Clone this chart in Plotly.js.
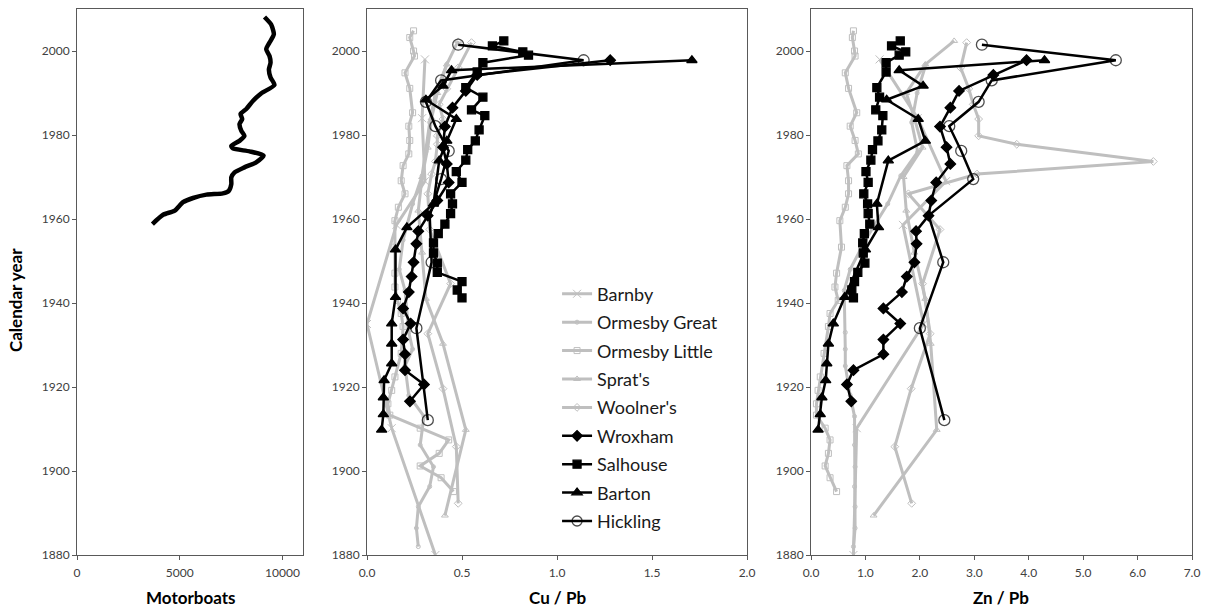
<!DOCTYPE html>
<html>
<head>
<meta charset="utf-8">
<script src="https://cdn.plot.ly/plotly-3.0.1.min.js"></script>
<style>html,body{margin:0;padding:0;background:#fff;}#chart{width:1211px;height:607px;}</style>
</head>
<body>
<div id="chart"></div>
<script>
// ---------- Motorboats ----------
const boatYears = [2008.1, 2006.3, 2004.0, 2002.0, 2000.4, 1998.8, 1997.2, 1995.6, 1993.7, 1991.9, 1989.9, 1988.1, 1986.2, 1985.0, 1983.8, 1982.6, 1981.0, 1979.8, 1978.6, 1977.4, 1976.8, 1976.1, 1975.1, 1973.5, 1972.3, 1971.1, 1969.9, 1968.3, 1966.7, 1966.1, 1965.8, 1965.0, 1964.0, 1962.0, 1961.0, 1958.8];
const boatCount = [9126, 9450, 9580, 9370, 9210, 9370, 9420, 9340, 9420, 9610, 8960, 8560, 8240, 7960, 8040, 7910, 8000, 8150, 7910, 7510, 7590, 8400, 9080, 8720, 8150, 7670, 7510, 7510, 7390, 7100, 6300, 5650, 5160, 4760, 4190, 3670];

// ---------- Grey lakes ----------
const barnbyYears = [1998.0, 1984.0, 1969.0, 1958.6, 1935.0, 1910.2, 1880.0];
const barnbyCu    = [0.305, 0.29, 0.305, 0.155, 0.0, 0.13, 0.36];
const barnbyZn    = [1.26, 1.96, 2.48, 1.69, 2.07, 0.84, 0.78];

const ormGreatYears = [1996.8, 1990.0, 1983.0, 1976.0, 1970.3, 1963.6, 1955.0, 1948.0, 1943.0, 1933.0, 1929.0, 1925.0, 1918.0, 1913.0, 1906.2, 1901.0, 1896.3, 1891.5, 1886.4, 1882.0];
const ormGreatCu    = [0.42, 0.36, 0.33, 0.31, 0.29, 0.24, 0.19, 0.17, 0.20, 0.22, 0.24, 0.20, 0.22, 0.30, 0.28, 0.35, 0.33, 0.27, 0.26, 0.27];
const ormGreatZn    = [2.11, 1.95, 1.85, 1.96, 1.65, 1.41, 1.00, 0.72, 0.61, 0.63, 0.63, 0.63, 0.72, 0.80, 0.80, 0.81, 0.80, 0.81, 0.81, 0.78];

const ormLittleYears = [2004.8, 2003.2, 2000.0, 1998.8, 1994.8, 1991.1, 1985.3, 1982.1, 1978.7, 1975.5, 1972.7, 1969.1, 1966.0, 1962.8, 1959.6, 1953.3, 1947.1, 1943.8, 1940.6, 1937.5, 1934.4, 1928.0, 1922.4, 1919.2, 1916.0, 1913.3, 1910.2, 1907.4, 1904.2, 1901.2, 1898.4, 1895.1];
const ormLittleCu    = [0.245, 0.225, 0.245, 0.25, 0.20, 0.225, 0.24, 0.22, 0.225, 0.22, 0.19, 0.18, 0.20, 0.165, 0.147, 0.147, 0.147, 0.147, 0.16, 0.18, 0.19, 0.18, 0.147, 0.13, 0.11, 0.12, 0.28, 0.43, 0.38, 0.28, 0.39, 0.455];
const ormLittleZn    = [0.78, 0.76, 0.80, 0.81, 0.63, 0.69, 0.84, 0.72, 0.81, 0.87, 0.66, 0.69, 0.69, 0.63, 0.53, 0.56, 0.47, 0.44, 0.50, 0.35, 0.32, 0.24, 0.17, 0.13, 0.10, 0.10, 0.26, 0.35, 0.32, 0.26, 0.35, 0.47];

const spratYears = [2002.4, 1996.8, 1990.0, 1984.0, 1977.0, 1970.0, 1962.0, 1952.0, 1941.0, 1930.3, 1909.8, 1889.4];
const spratCu    = [0.48, 0.42, 0.37, 0.34, 0.32, 0.29, 0.27, 0.29, 0.31, 0.40, 0.52, 0.41];
const spratZn    = [2.63, 2.10, 1.75, 1.90, 2.05, 1.70, 1.75, 1.90, 2.10, 2.20, 2.31, 1.15];

const woolYears = [2002.0, 1996.0, 1991.0, 1987.3, 1983.8, 1979.8, 1977.8, 1973.7, 1970.7, 1966.0, 1957.5, 1944.6, 1932.7, 1919.6, 1905.8, 1892.3];
const woolCu    = [0.55, 0.48, 0.42, 0.38, 0.40, 0.37, 0.37, 0.36, 0.34, 0.32, 0.33, 0.44, 0.32, 0.40, 0.47, 0.48];
const woolZn    = [2.86, 2.75, 2.90, 2.98, 3.08, 3.08, 3.78, 6.29, 3.05, 1.79, 2.37, 2.05, 2.19, 1.84, 1.54, 1.85];

// ---------- Black lakes ----------
const wroxYears = [1997.8, 1994.3, 1990.5, 1986.5, 1982.0, 1977.1, 1973.1, 1968.7, 1964.4, 1960.8, 1957.1, 1954.1, 1949.7, 1946.3, 1942.6, 1938.7, 1935.1, 1931.3, 1927.8, 1924.0, 1920.6, 1916.6];
const wroxCu    = [1.28, 0.58, 0.52, 0.45, 0.41, 0.40, 0.42, 0.43, 0.37, 0.32, 0.27, 0.26, 0.245, 0.235, 0.22, 0.19, 0.23, 0.19, 0.20, 0.20, 0.30, 0.226];
const wroxZn    = [3.96, 3.35, 2.72, 2.56, 2.37, 2.49, 2.56, 2.30, 2.21, 2.16, 1.93, 1.94, 1.90, 1.76, 1.67, 1.33, 1.64, 1.33, 1.33, 0.78, 0.66, 0.74];

const salYears = [2002.4, 2001.2, 1999.8, 1999.0, 1997.2, 1995.0, 1991.3, 1989.0, 1986.0, 1984.6, 1981.2, 1978.6, 1976.5, 1974.0, 1971.3, 1968.7, 1966.0, 1963.6, 1961.3, 1958.8, 1956.5, 1954.3, 1951.9, 1949.5, 1947.3, 1945.1, 1943.1, 1941.2];
const salCu    = [0.72, 0.66, 0.82, 0.85, 0.61, 0.58, 0.52, 0.61, 0.55, 0.62, 0.59, 0.57, 0.53, 0.52, 0.47, 0.50, 0.44, 0.45, 0.44, 0.41, 0.375, 0.35, 0.35, 0.37, 0.37, 0.50, 0.475, 0.50];
const salZn    = [1.64, 1.48, 1.74, 1.62, 1.38, 1.38, 1.21, 1.26, 1.19, 1.32, 1.30, 1.23, 1.13, 1.10, 1.01, 1.05, 0.97, 1.04, 1.05, 1.08, 0.98, 0.95, 0.96, 0.99, 0.86, 0.80, 0.75, 0.78];

const bartYears = [1997.8, 1995.4, 1991.7, 1988.4, 1983.8, 1978.6, 1973.9, 1963.6, 1958.0, 1952.7, 1941.4, 1935.1, 1930.3, 1925.6, 1921.6, 1917.5, 1913.5, 1909.8];
const bartCu    = [1.71, 0.445, 0.40, 0.31, 0.47, 0.42, 0.38, 0.35, 0.21, 0.15, 0.15, 0.13, 0.13, 0.13, 0.09, 0.086, 0.086, 0.077];
const bartZn    = [4.29, 1.62, 2.06, 1.39, 1.97, 2.10, 1.42, 1.21, 1.24, 1.00, 0.62, 0.41, 0.32, 0.29, 0.27, 0.20, 0.17, 0.13];

const hickYears = [2001.5, 1997.8, 1993.0, 1987.9, 1982.1, 1976.2, 1969.5, 1960.8, 1949.7, 1934.0, 1912.1];
const hickCu    = [0.48, 1.14, 0.39, 0.31, 0.36, 0.43, 0.39, 0.33, 0.34, 0.26, 0.32];
const hickZn    = [3.14, 5.60, 3.32, 3.08, 2.54, 2.76, 2.98, 2.16, 2.43, 2.00, 2.45];
const hickHidden = [1960.8]; // sample without a visible circle

const yearTicks = [1880, 1900, 1920, 1940, 1960, 1980, 2000];

// ---------- series definitions ----------
const GREY = '#BFBFBF';
const series = [
  {name: 'Barnby', years: barnbyYears, cu: barnbyCu, zn: barnbyZn, color: GREY, symbol: 'x-thin-open', size: 8},
  {name: 'Ormesby Great', years: ormGreatYears, cu: ormGreatCu, zn: ormGreatZn, color: GREY, symbol: 'circle-open', size: 4},
  {name: 'Ormesby Little', years: ormLittleYears, cu: ormLittleCu, zn: ormLittleZn, color: GREY, symbol: 'square-open', size: 6},
  {name: "Sprat's", years: spratYears, cu: spratCu, zn: spratZn, color: GREY, symbol: 'triangle-up-open', size: 6},
  {name: "Woolner's", years: woolYears, cu: woolCu, zn: woolZn, color: GREY, symbol: 'diamond-open', size: 6},
  {name: 'Wroxham', years: wroxYears, cu: wroxCu, zn: wroxZn, color: '#000', symbol: 'diamond', size: 8},
  {name: 'Salhouse', years: salYears, cu: salCu, zn: salZn, color: '#000', symbol: 'square', size: 8},
  {name: 'Barton', years: bartYears, cu: bartCu, zn: bartZn, color: '#000', symbol: 'triangle-up', size: 9},
  {name: 'Hickling', years: hickYears, cu: hickCu, zn: hickZn, color: '#000', symbol: 'circle-open', size: 11, hidden: hickHidden}
];

const traces = [];
traces.push({
  x: boatCount, y: boatYears, xaxis: 'x', yaxis: 'y', mode: 'lines',
  line: {color: '#000', width: 4.5, shape: 'spline', smoothing: 0.6}, showlegend: false, hoverinfo: 'skip'
});
series.forEach((s, i) => {
  const grey = s.color === GREY;
  const sizes = s.hidden ? s.years.map(y => s.hidden.indexOf(y) >= 0 ? 0 : s.size) : s.size;
  const mk = {symbol: s.symbol, size: sizes, color: s.color,
              line: {color: s.color, width: grey ? 1 : 1.3}};
  traces.push({
    x: s.cu, y: s.years, xaxis: 'x2', yaxis: 'y2', mode: 'lines+markers', name: s.name,
    legendgroup: 'g' + i, line: {color: s.color, width: grey ? 3 : 2.5}, marker: mk
  });
  traces.push({
    x: s.zn, y: s.years, xaxis: 'x3', yaxis: 'y3', mode: 'lines+markers', name: s.name,
    legendgroup: 'g' + i, showlegend: false, line: {color: s.color, width: grey ? 3 : 2.5}, marker: mk
  });
});

const FONT = 'Lato, "Open Sans", sans-serif';
const axBase = {
  showline: true, mirror: true, linecolor: '#595959', linewidth: 1,
  ticks: 'outside', ticklen: 4, tickcolor: '#595959', tickwidth: 1,
  showgrid: false, zeroline: false, fixedrange: true,
  tickfont: {family: FONT, size: 12, color: '#404040'}
};
const yBase = Object.assign({}, axBase, {range: [1880, 2010], tickvals: yearTicks, ticktext: yearTicks.map(String)});

const W = 1211, H = 607;
const yDom = [(H - 555) / H, (H - 9) / H];

const layout = {
  width: W, height: H,
  margin: {l: 0, r: 0, t: 0, b: 0},
  paper_bgcolor: '#fff', plot_bgcolor: '#fff',
  font: {family: FONT, color: '#000'},
  showlegend: true,
  legend: {x: 0.460, y: 0.546, xanchor: 'left', yanchor: 'top', bgcolor: 'rgba(0,0,0,0)',
           font: {family: FONT, size: 18, color: '#1a1a1a'}, tracegroupgap: 2, traceorder: 'grouped'},
  xaxis: Object.assign({}, axBase, {domain: [77 / W, 303 / W], anchor: 'y', range: [0, 11000],
          tickvals: [0, 5000, 10000], ticktext: ['0', '5000', '10000'], ticklabelstandoff: 3}),
  yaxis: Object.assign({}, yBase, {domain: yDom, anchor: 'x'}),
  xaxis2: Object.assign({}, axBase, {domain: [367 / W, 747 / W], anchor: 'y2', range: [0, 2],
          tickvals: [0, 0.5, 1, 1.5, 2], ticktext: ['0.0', '0.5', '1.0', '1.5', '2.0'], ticklabelstandoff: 3}),
  yaxis2: Object.assign({}, yBase, {domain: yDom, anchor: 'x2'}),
  xaxis3: Object.assign({}, axBase, {domain: [811 / W, 1192 / W], anchor: 'y3', range: [0, 7],
          tickvals: [0, 1, 2, 3, 4, 5, 6, 7], ticktext: ['0.0', '1.0', '2.0', '3.0', '4.0', '5.0', '6.0', '7.0'], ticklabelstandoff: 3}),
  yaxis3: Object.assign({}, yBase, {domain: yDom, anchor: 'x3'}),
  annotations: [
    {text: '<b>Motorboats</b>', x: 190 / W, y: 1 - 597 / H, xref: 'paper', yref: 'paper', showarrow: false,
     font: {family: FONT, size: 17, color: '#000'}, xanchor: 'center', yanchor: 'middle'},
    {text: '<b>Cu / Pb</b>', x: 557 / W, y: 1 - 597 / H, xref: 'paper', yref: 'paper', showarrow: false,
     font: {family: FONT, size: 17, color: '#000'}, xanchor: 'center', yanchor: 'middle'},
    {text: '<b>Zn / Pb</b>', x: 1001 / W, y: 1 - 597 / H, xref: 'paper', yref: 'paper', showarrow: false,
     font: {family: FONT, size: 17, color: '#000'}, xanchor: 'center', yanchor: 'middle'},
    {text: '<b>Calendar year</b>', x: 15 / W, y: 1 - 300 / H, xref: 'paper', yref: 'paper', showarrow: false,
     textangle: -90, font: {family: FONT, size: 17, color: '#000'}, xanchor: 'center', yanchor: 'middle'}
  ]
};

Plotly.newPlot('chart', traces, layout, {displayModeBar: false, staticPlot: true});
</script>
</body>
</html>
